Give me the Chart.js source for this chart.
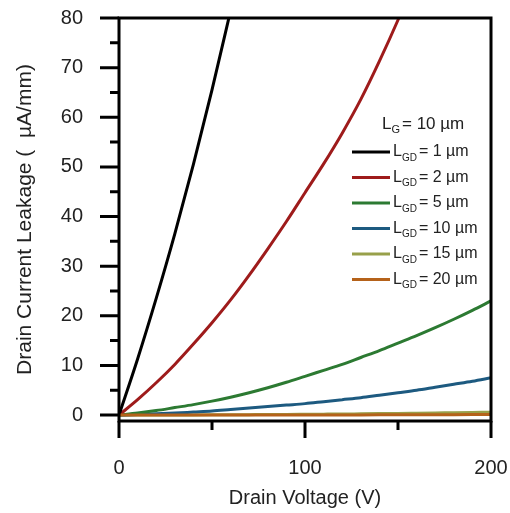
<!DOCTYPE html>
<html>
<head>
<meta charset="utf-8">
<title>Drain leakage vs drain voltage</title>
<script src="https://cdn.jsdelivr.net/npm/chart.js@4.4.1/dist/chart.umd.min.js"></script>
<style>
  html, body { margin: 0; padding: 0; background: #fff; }
  #wrap { width: 510px; height: 513px; }
</style>
</head>
<body>
<div id="wrap"><canvas id="leakChart" width="510" height="513"></canvas></div>
<script>
// drain voltage sweep (V)
const drainV = [0, 10, 20, 30, 40, 50, 60, 70, 80, 90, 100,
                110, 120, 130, 140, 150, 160, 170, 180, 190, 200];

// leakage current (uA/mm) per gate-drain spacing
const leakGD1  = [0, 11.3, 23.5, 36.5, 50.5, 65.5, 81.5];
const leakGD2  = [0, 3.1, 6.5, 10.2, 14.3, 18.6, 23.2, 28.2, 33.5, 39.0, 44.8,
                  50.6, 56.8, 63.6, 71.3, 79.6, 88.5];
const leakGD5  = [0, 0.4, 0.9, 1.5, 2.1, 2.8, 3.6, 4.5, 5.5, 6.6, 7.8,
                  9.0, 10.2, 11.6, 13.0, 14.5, 16.0, 17.6, 19.3, 21.1, 23.0];
const leakGD10 = [0, 0.1, 0.25, 0.4, 0.6, 0.8, 1.1, 1.4, 1.7, 2.0, 2.3,
                  2.7, 3.1, 3.5, 4.0, 4.5, 5.0, 5.6, 6.2, 6.8, 7.5];
const leakGD15 = [0, 0, 0, 0, 0.02, 0.04, 0.06, 0.08, 0.1, 0.12, 0.15,
                  0.18, 0.21, 0.25, 0.29, 0.33, 0.38, 0.43, 0.48, 0.53, 0.58];
const leakGD20 = [0, 0, 0, 0, 0, 0, 0, 0, 0, 0, 0,
                  0.01, 0.02, 0.03, 0.04, 0.05, 0.06, 0.07, 0.08, 0.09, 0.1];

const gdLengths = [1, 2, 5, 10, 15, 20];
const gateLength = 10;
const seriesColors = ['#000000', '#9e1b1b', '#2c7a32', '#1d5a80', '#98a04a', '#b5621a'];

const xTicks = [0, 100, 200];
const xMinor = [50, 150];
const yTicks = [0, 10, 20, 30, 40, 50, 60, 70, 80];
const yMinor = [5, 15, 25, 35, 45, 55, 65, 75];

const FONT = '"Liberation Sans", Arial, Helvetica, sans-serif';
Chart.defaults.font.family = FONT;

function toPoints(vals) {
  return vals.map((v, i) => ({ x: drainV[i], y: v }));
}

const seriesData = [leakGD1, leakGD2, leakGD5, leakGD10, leakGD15, leakGD20];

const datasets = seriesData.map((vals, i) => ({
  label: 'L_GD = ' + gdLengths[i] + ' µm',
  data: toPoints(vals),
  borderColor: seriesColors[i],
  backgroundColor: seriesColors[i],
  borderWidth: 3,
  pointRadius: 0,
  cubicInterpolationMode: 'monotone',
  fill: false,
  // keep the 20 um trace above the 15 um one
  order: i === 5 ? 0 : 1,
}));

// tick padding would otherwise be added to the chart-area inset
function noScalePadding(s) {
  s.paddingTop = 0;
  s.paddingBottom = 0;
  s.paddingLeft = 0;
  s.paddingRight = 0;
}

// L with a lowered subscript, then the rest of the label
function drawSubLabel(ctx, x, y, sub, rest, size) {
  ctx.font = size + 'px ' + FONT;
  ctx.fillText('L', x, y);
  let w = ctx.measureText('L').width;
  const subSize = Math.round(size * 0.65);
  ctx.font = subSize + 'px ' + FONT;
  ctx.fillText(sub, x + w, y + size * 0.38);
  w += ctx.measureText(sub).width + 2;
  ctx.font = size + 'px ' + FONT;
  ctx.fillText(rest, x + w, y);
}

// boxed frame with outward major/minor ticks
const axisFrame = {
  id: 'axisFrame',
  afterDatasetsDraw(chart) {
    const { ctx, chartArea: a, scales: { x, y } } = chart;
    ctx.save();
    ctx.strokeStyle = '#000';
    ctx.lineWidth = 3;
    ctx.lineCap = 'square';
    ctx.strokeRect(a.left, a.top, a.right - a.left, a.bottom - a.top);
    ctx.lineCap = 'butt';
    ctx.beginPath();
    yTicks.forEach(v => {
      const p = y.getPixelForValue(v);
      ctx.moveTo(a.left - 19, p); ctx.lineTo(a.left, p);
    });
    yMinor.forEach(v => {
      const p = y.getPixelForValue(v);
      ctx.moveTo(a.left - 9, p); ctx.lineTo(a.left, p);
    });
    xTicks.forEach(v => {
      const p = x.getPixelForValue(v);
      ctx.moveTo(p, a.bottom); ctx.lineTo(p, a.bottom + 17);
    });
    xMinor.forEach(v => {
      const p = x.getPixelForValue(v);
      ctx.moveTo(p, a.bottom); ctx.lineTo(p, a.bottom + 9);
    });
    ctx.stroke();
    ctx.restore();
  }
};

// legend block with subscripted labels
const legendBox = {
  id: 'legendBox',
  afterDraw(chart) {
    const { ctx } = chart;
    ctx.save();
    ctx.fillStyle = '#222';
    ctx.textBaseline = 'middle';
    ctx.textAlign = 'left';
    drawSubLabel(ctx, 382, 124, 'G', '= ' + gateLength + ' µm', 17);
    chart.data.datasets.forEach((ds, i) => {
      const ly = 152 + i * 25.5;
      ctx.strokeStyle = ds.borderColor;
      ctx.lineWidth = 3;
      ctx.beginPath();
      ctx.moveTo(352, ly);
      ctx.lineTo(390, ly);
      ctx.stroke();
      drawSubLabel(ctx, 393, ly, 'GD', '= ' + gdLengths[i] + ' µm', 16);
    });
    ctx.restore();
  }
};

new Chart(document.getElementById('leakChart'), {
  type: 'line',
  data: { datasets },
  options: {
    responsive: false,
    animation: false,
    layout: { padding: { left: 0, right: 19, top: 18, bottom: 0 } },
    plugins: {
      legend: { display: false },
      tooltip: { enabled: false },
    },
    scales: {
      x: {
        type: 'linear',
        min: 0,
        max: 200,
        afterBuildTicks: s => { s.ticks = xTicks.map(v => ({ value: v })); },
        afterFit: s => { s.height = 92; noScalePadding(s); },
        grid: { display: false },
        border: { display: false },
        ticks: { padding: 27, color: '#222', font: { size: 20 }, maxRotation: 0 },
        title: {
          display: true,
          text: 'Drain Voltage (V)',
          color: '#222',
          font: { size: 20 },
          padding: { top: 0, bottom: 3 },
        },
      },
      y: {
        type: 'linear',
        min: -1.2,
        max: 80,
        afterBuildTicks: s => { s.ticks = yTicks.map(v => ({ value: v })); },
        afterFit: s => { s.width = 119; noScalePadding(s); },
        grid: { display: false },
        border: { display: false },
        ticks: { padding: 28, color: '#222', font: { size: 20 } },
        title: {
          display: true,
          text: 'Drain Current Leakage (  µA/mm)',
          color: '#222',
          font: { size: 21 },
          padding: { top: 13, bottom: 0 },
        },
      },
    },
  },
  plugins: [axisFrame, legendBox],
});
</script>
</body>
</html>
